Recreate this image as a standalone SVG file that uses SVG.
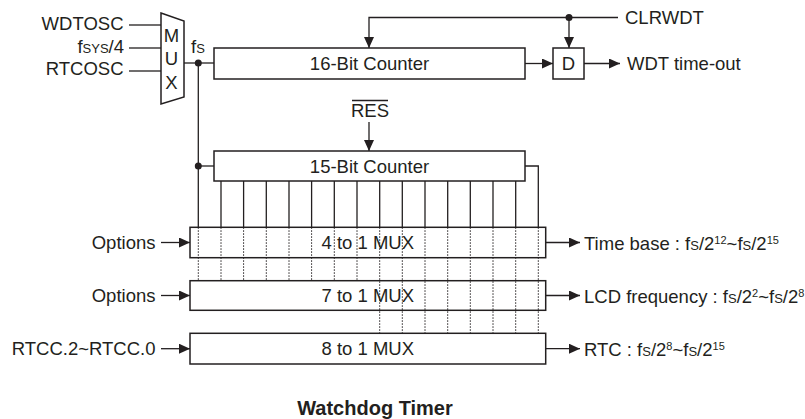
<svg xmlns="http://www.w3.org/2000/svg" width="805" height="419" viewBox="0 0 805 419">
<defs>
<marker id="ah" markerWidth="11" markerHeight="10" refX="11" refY="5" orient="auto" markerUnits="userSpaceOnUse">
<path d="M0,0 L11,5 L0,10 Z" fill="#231f20"/>
</marker>
</defs>
<style>
.ln{stroke:#231f20;stroke-width:1.3;fill:none}
.bx{stroke:#231f20;stroke-width:1.5;fill:#fff}
.dt{stroke:#231f20;stroke-width:1;stroke-dasharray:1.5 1.5;fill:none}
.t{font-family:"Liberation Sans",Arial,sans-serif;font-size:18.5px;fill:#231f20}
.s{font-size:13px}
.sup{font-size:11px}
.c{text-anchor:middle}
.e{text-anchor:end}
.b{font-weight:bold;font-size:20px}
</style>
<rect width="805" height="419" fill="#fff"/>

<g id="connectors">
<line class="ln" x1="129" y1="25" x2="161" y2="25"/>
<line class="ln" x1="129" y1="48" x2="161" y2="48"/>
<line class="ln" x1="129" y1="71" x2="161" y2="71"/>
<line class="ln" x1="184" y1="63" x2="214" y2="63"/>
<line class="ln" x1="198.3" y1="63" x2="198.3" y2="227.3"/>
<line class="ln" x1="198.3" y1="166" x2="214" y2="166"/>
<circle cx="198.3" cy="63" r="3.5" fill="#231f20"/>
<circle cx="198.3" cy="166" r="3.5" fill="#231f20"/>
<polyline class="ln" points="618,17.5 369,17.5 369,48" marker-end="url(#ah)"/>
<line class="ln" x1="569" y1="17.5" x2="569" y2="48" marker-end="url(#ah)"/>
<circle cx="569" cy="17.5" r="3.5" fill="#231f20"/>
<line class="ln" x1="525" y1="63.5" x2="553" y2="63.5" marker-end="url(#ah)"/>
<line class="ln" x1="584" y1="63.5" x2="620" y2="63.5" marker-end="url(#ah)"/>
<line class="ln" x1="369" y1="122" x2="369" y2="151" marker-end="url(#ah)"/>
<polyline class="ln" points="525,166 538.3,166 538.3,227.3"/>
<g class="ln">
<line x1="221" y1="181" x2="221" y2="227.3"/>
<line x1="243.6" y1="181" x2="243.6" y2="227.3"/>
<line x1="266.3" y1="181" x2="266.3" y2="227.3"/>
<line x1="289" y1="181" x2="289" y2="227.3"/>
<line x1="311.6" y1="181" x2="311.6" y2="227.3"/>
<line x1="334.3" y1="181" x2="334.3" y2="227.3"/>
<line x1="357" y1="181" x2="357" y2="227.3"/>
<line x1="379.7" y1="181" x2="379.7" y2="227.3"/>
<line x1="402.3" y1="181" x2="402.3" y2="227.3"/>
<line x1="425" y1="181" x2="425" y2="227.3"/>
<line x1="447.7" y1="181" x2="447.7" y2="227.3"/>
<line x1="470.3" y1="181" x2="470.3" y2="227.3"/>
<line x1="493" y1="181" x2="493" y2="227.3"/>
<line x1="515.7" y1="181" x2="515.7" y2="227.3"/>
</g>
<line class="ln" x1="161" y1="242.5" x2="190" y2="242.5" marker-end="url(#ah)"/>
<line class="ln" x1="161" y1="295.5" x2="190" y2="295.5" marker-end="url(#ah)"/>
<line class="ln" x1="161" y1="348.7" x2="190" y2="348.7" marker-end="url(#ah)"/>
<line class="ln" x1="545.7" y1="242.5" x2="580" y2="242.5" marker-end="url(#ah)"/>
<line class="ln" x1="545.7" y1="295.5" x2="580" y2="295.5" marker-end="url(#ah)"/>
<line class="ln" x1="545.7" y1="348.7" x2="580" y2="348.7" marker-end="url(#ah)"/>
</g>

<g id="mux-in">
<polygon class="bx" points="161,13 184,21 184,97 161,104"/>
<text class="t c" x="171.5" y="41.5">M</text>
<text class="t c" x="171.5" y="65">U</text>
<text class="t c" x="171.5" y="88.5">X</text>
</g>
<g id="counter16">
<rect class="bx" x="214" y="48" width="311" height="31"/>
<text class="t c" x="369.5" y="70">16-Bit Counter</text>
</g>
<g id="dff">
<rect class="bx" x="553" y="48" width="31" height="31"/>
<text class="t c" x="568.5" y="70">D</text>
</g>
<g id="counter15">
<rect class="bx" x="214" y="151" width="311" height="30"/>
<text class="t c" x="369.5" y="172.5">15-Bit Counter</text>
</g>
<g id="mux4">
<rect class="bx" x="190" y="227.3" width="355.7" height="30.4"/>
<text class="t c" x="367.8" y="249.3">4 to 1 MUX</text>
</g>
<g id="mux7">
<rect class="bx" x="190" y="280.7" width="355.7" height="29.6"/>
<text class="t c" x="367.8" y="302">7 to 1 MUX</text>
</g>
<g id="mux8">
<rect class="bx" x="190" y="333.3" width="355.7" height="30.7"/>
<text class="t c" x="367.8" y="355">8 to 1 MUX</text>
</g>

<g id="dotted">
<path class="dt" d="M198.3,227.3V280.7 M221,227.3V280.7 M243.6,227.3V280.7 M266.3,227.3V280.7 M289,227.3V280.7 M311.6,227.3V280.7 M334.3,227.3V280.7 M357,227.3V280.7"/>
<path class="dt" d="M379.7,227.3V333.3 M402.3,227.3V333.3 M425,227.3V333.3 M447.7,227.3V333.3 M470.3,227.3V333.3 M493,227.3V333.3 M515.7,227.3V333.3 M538.3,227.3V333.3"/>
</g>

<g id="labels">
<text class="t e" x="123.5" y="29.5">WDTOSC</text>
<text class="t e" x="124" y="52.5">f<tspan class="s">SYS</tspan>/4</text>
<text class="t e" x="123.5" y="75">RTCOSC</text>
<text class="t" x="191" y="53">f<tspan class="s">S</tspan></text>
<text class="t" x="625" y="23.5">CLRWDT</text>
<text class="t" x="627" y="70">WDT time-out</text>
<text class="t c" x="370" y="117">RES</text>
<line class="ln" x1="352" y1="100.5" x2="388" y2="100.5"/>
<text class="t e" x="155.5" y="249">Options</text>
<text class="t e" x="155.5" y="302">Options</text>
<text class="t e" x="155.5" y="355">RTCC.2~RTCC.0</text>
<text class="t" x="584" y="249.5">Time base : f<tspan class="s">S</tspan>/2<tspan class="sup" dy="-6">12</tspan><tspan dy="6">~f</tspan><tspan class="s">S</tspan>/2<tspan class="sup" dy="-6">15</tspan></text>
<text class="t" x="584" y="302.5">LCD frequency : f<tspan class="s">S</tspan>/2<tspan class="sup" dy="-6">2</tspan><tspan dy="6">~f</tspan><tspan class="s">S</tspan>/2<tspan class="sup" dy="-6">8</tspan></text>
<text class="t" x="584" y="355.5">RTC : f<tspan class="s">S</tspan>/2<tspan class="sup" dy="-6">8</tspan><tspan dy="6">~f</tspan><tspan class="s">S</tspan>/2<tspan class="sup" dy="-6">15</tspan></text>
<text class="t c b" x="375" y="415">Watchdog Timer</text>
</g>
</svg>
